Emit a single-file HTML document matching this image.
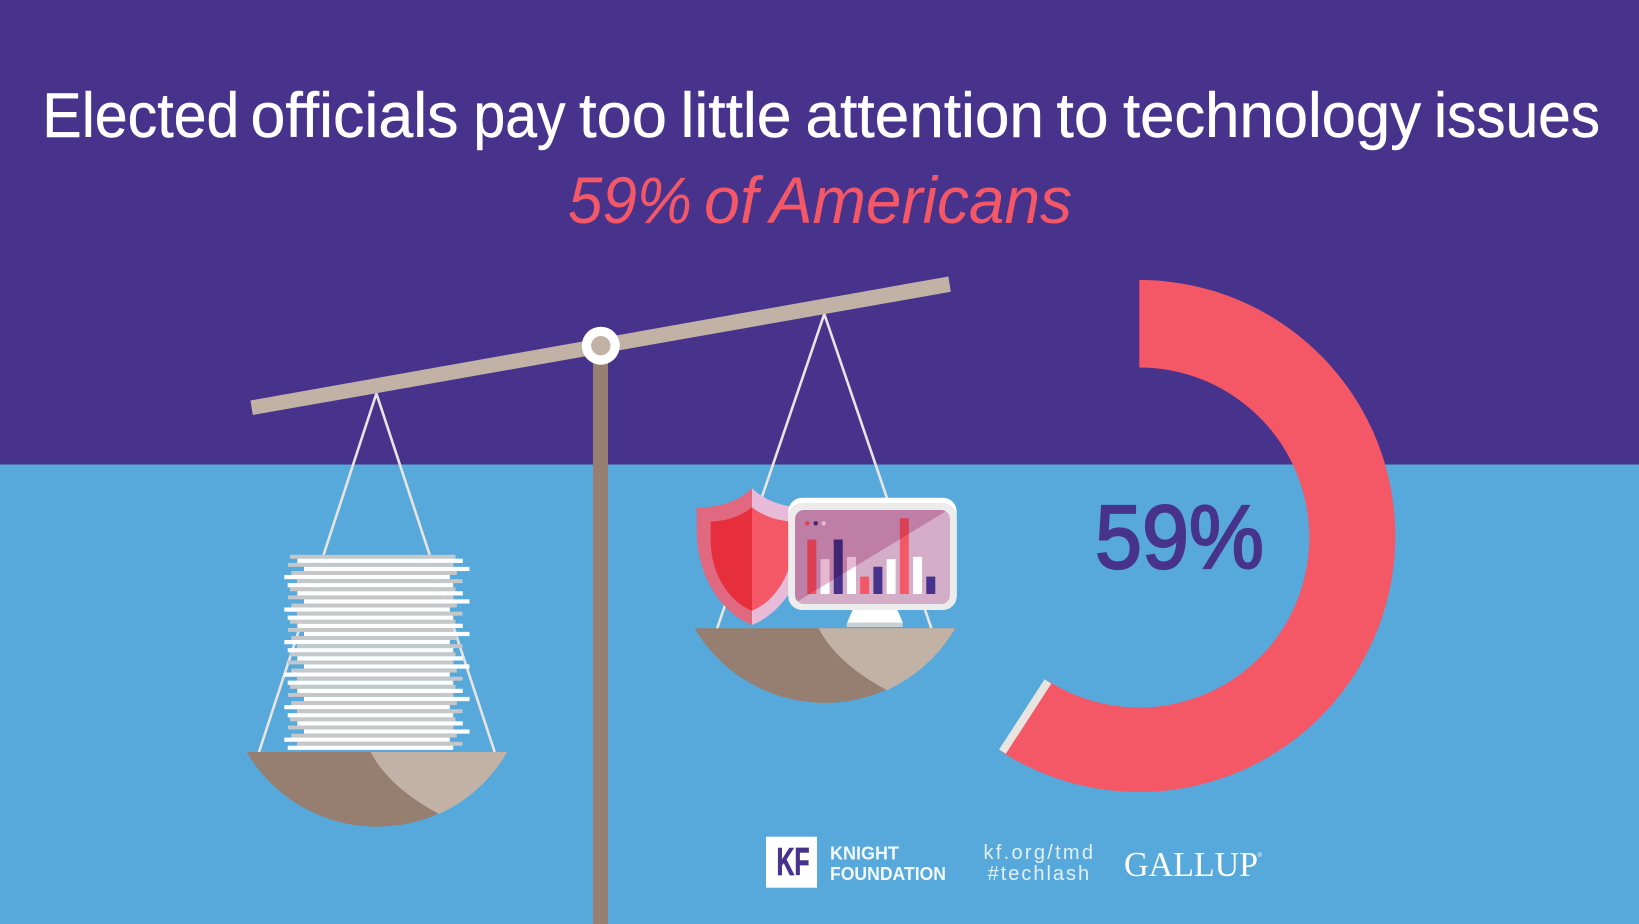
<!DOCTYPE html>
<html lang="en">
<head>
<meta charset="utf-8">
<title>Elected officials pay too little attention to technology issues</title>
<style>
html,body{margin:0;padding:0;background:#56a9da;}
svg{display:block;}
text{font-family:"Liberation Sans",sans-serif;}
</style>
</head>
<body>
<svg id="stage" xmlns="http://www.w3.org/2000/svg" width="1639" height="924" viewBox="0 0 1639 924">
  <defs>
    <clipPath id="screen-clip"><rect x="795" y="510" width="155" height="94" rx="9"/></clipPath>
  </defs>
  <rect x="0" y="0" width="1639" height="464.5" fill="#47338c"/>
  <rect x="0" y="464.5" width="1639" height="459.5" fill="#56a9da"/>

  <text y="137" font-size="63" fill="#ffffff" stroke="#ffffff" stroke-width="0.45"><tspan x="42.3" textLength="197" lengthAdjust="spacingAndGlyphs">Elected</tspan> <tspan x="250.5" textLength="208" lengthAdjust="spacingAndGlyphs">officials</tspan> <tspan x="473.5" textLength="92" lengthAdjust="spacingAndGlyphs">pay</tspan> <tspan x="579" textLength="88" lengthAdjust="spacingAndGlyphs">too</tspan> <tspan x="680.5" textLength="111" lengthAdjust="spacingAndGlyphs">little</tspan> <tspan x="805.5" textLength="238.5" lengthAdjust="spacingAndGlyphs">attention</tspan> <tspan x="1056.5" textLength="52" lengthAdjust="spacingAndGlyphs">to</tspan> <tspan x="1123" textLength="298" lengthAdjust="spacingAndGlyphs">technology</tspan> <tspan x="1434" textLength="166" lengthAdjust="spacingAndGlyphs">issues</tspan></text>
  <text y="223" font-size="66" font-style="italic" fill="#f45866"><tspan x="568" textLength="124" lengthAdjust="spacingAndGlyphs">59%</tspan> <tspan x="704" textLength="54" lengthAdjust="spacingAndGlyphs">of</tspan> <tspan x="770" textLength="302" lengthAdjust="spacingAndGlyphs">Americans</tspan></text>

  <rect x="593" y="345" width="15" height="579" fill="#967f70"/>

  <g stroke="#e8e4e0" stroke-width="2.6" fill="none">
    <path d="M259,752 L376.4,393.5 L494.7,752"/>
  </g>
  <g stroke="#e8e4e0" stroke-width="2.6" fill="none">
    <path d="M717.1,628.5 L824.3,314 L931.4,628.5"/>
  </g>

  <polygon points="250.4,400.5 948.4,276.5 950.8,291.8 252.8,415" fill="#c2b2a6"/>
  <circle cx="600.8" cy="345.7" r="19" fill="#ffffff"/>
  <circle cx="600.8" cy="345.7" r="9.7" fill="#c2b2a6"/>

  <g id="paper-stack"></g>

  <g>
    <path d="M246.7,752 H507.3 A151,151 0 0 1 246.7,752 Z" fill="#967f70"/>
    <path d="M370.7,752 H507.3 A151,151 0 0 1 439,814 Q388.5,787 370.7,752 Z" fill="#c2b2a6"/>
  </g>
  <g>
    <path d="M694.6,628.2 H955.2 A151,151 0 0 1 694.6,628.2 Z" fill="#967f70"/>
    <path d="M818.6,628.2 H955.2 A151,151 0 0 1 886.9,690.2 Q836.4,663.2 818.6,628.2 Z" fill="#c2b2a6"/>
  </g>

  <g>
    <path d="M752,488.3 C737,503 716,507.7 696.7,507.7 L696.7,530 C696.7,575 720,612 752,625 Z" fill="#e0687f"/>
    <path d="M752,488.3 C767,503 788,507.7 807.3,507.7 L807.3,530 C807.3,575 784,612 752,625 Z" fill="#e8bbd8"/>
    <path d="M752,507.3 C740,517 725,521 710.7,521.7 L710.7,540 C710.7,575 730,602 752,610.7 Z" fill="#e72e3d"/>
    <path d="M752,507.3 C764,517 779,521 793.3,521.7 L793.3,540 C793.3,575 774,602 752,610.7 Z" fill="#f45866"/>
  </g>

  <g>
    <polygon points="853,609 897,609 903,623 847,623" fill="#ffffff"/>
    <rect x="846.7" y="622.5" width="56" height="4.5" fill="#c8d2d6"/>
    <rect x="788.3" y="497.7" width="168.4" height="112.3" rx="14" fill="#ffffff"/>
    <rect x="788.3" y="503" width="168.4" height="107" rx="14" fill="#ececec"/>
    <rect x="795" y="510" width="155" height="94" rx="9" fill="#d4aec8"/>
    <g id="monitor-bars"></g>
    <circle cx="807.3" cy="523.3" r="2.2" fill="#f45866"/>
    <circle cx="815.7" cy="523.3" r="2.2" fill="#47338c"/>
    <circle cx="823.7" cy="523.3" r="2.2" fill="#ffffff"/>
    <polygon points="795,510 948,510 795,603" fill="#e6b8d2" clip-path="url(#screen-clip)" style="mix-blend-mode:multiply"/>
  </g>

  <g id="donut"></g>
  <text x="1095" y="568" font-size="90" fill="#47338c" stroke="#47338c" stroke-width="2.2" textLength="169" lengthAdjust="spacingAndGlyphs">59%</text>

  <g>
    <rect x="766" y="836.7" width="51" height="51" fill="#ffffff"/>
    <text x="776.5" y="875" font-size="39" font-weight="bold" fill="#47338c" stroke="#47338c" stroke-width="0.8" textLength="33" lengthAdjust="spacingAndGlyphs">KF</text>
    <text x="830" y="859.3" font-size="18" font-weight="bold" fill="#f2f8fc" textLength="69" lengthAdjust="spacingAndGlyphs">KNIGHT</text>
    <text x="830" y="880" font-size="18" font-weight="bold" fill="#f2f8fc" textLength="116" lengthAdjust="spacingAndGlyphs">FOUNDATION</text>
  </g>
  <text x="983.5" y="859" font-size="20" fill="#e3f1fa" textLength="109.5" lengthAdjust="spacing">kf.org/tmd</text>
  <text x="987.6" y="880" font-size="20" fill="#e3f1fa" textLength="101.5" lengthAdjust="spacing">#techlash</text>
  <text x="1124" y="876" font-size="35" fill="#ffffff" textLength="134" lengthAdjust="spacingAndGlyphs" style="font-family:'Liberation Serif',serif">GALLUP</text>
  <text x="1257.5" y="857" font-size="6" fill="#ffffff">®</text>
</svg>

<script>
var donutValues = [59];
var barCategories = ['b1','b2','b3','b4','b5','b6','b7','b8','b9','b10'];
var barValues = [72, 46, 72, 49, 23, 36, 46, 100, 49, 23];
var barSeries = ['red','white','navy','white','red','navy','white','red','white','navy'];

var SVGNS = 'http://www.w3.org/2000/svg';
var seriesColors = {red:'#f45866', white:'#ffffff', navy:'#47338c'};

/* donut axis */
var donutCx = 1139.3, donutOuterCy = 536, donutInnerCy = 537.5, donutOuter = 256, donutInner = 170;
function donutAngle(pct){ return pct / 100 * 2 * Math.PI; }
function polarX(r, a){ return donutCx + r * Math.sin(a); }
function polarY(r, a, cy){ return cy - r * Math.cos(a); }

function drawDonut(){
  var g = document.getElementById('donut');
  var a = donutAngle(donutValues[0]);
  var large = a > Math.PI ? 1 : 0;
  var d = 'M' + polarX(donutOuter,0) + ',' + polarY(donutOuter,0,donutOuterCy) +
          ' A' + donutOuter + ',' + donutOuter + ' 0 ' + large + ' 1 ' + polarX(donutOuter,a) + ',' + polarY(donutOuter,a,donutOuterCy) +
          ' L' + polarX(donutInner,a) + ',' + polarY(donutInner,a,donutInnerCy) +
          ' A' + donutInner + ',' + donutInner + ' 0 ' + large + ' 0 ' + polarX(donutInner,0) + ',' + polarY(donutInner,0,donutInnerCy) + ' Z';
  var arc = document.createElementNS(SVGNS,'path');
  arc.setAttribute('d', d);
  arc.setAttribute('fill', '#f45866');
  
  
  g.appendChild(arc);
  var tick = document.createElementNS(SVGNS,'line');
  tick.setAttribute('x1', polarX(donutOuter - 0.5, a));
  tick.setAttribute('y1', polarY(donutOuter - 0.5, a, donutOuterCy));
  tick.setAttribute('x2', polarX(donutInner + 0.5, a));
  tick.setAttribute('y2', polarY(donutInner + 0.5, a, donutInnerCy));
  tick.setAttribute('stroke', '#e8e4e0');
  tick.setAttribute('stroke-width', '8');
  
  
  g.appendChild(tick);
}

/* monitor bar axes */
function barX(i){ return 807.3 + i * 13.22; }
function barHeight(v){ return v * 0.757; }
var barBase = 594;

function drawBars(){
  var g = document.getElementById('monitor-bars');
  for (var i = 0; i < barValues.length; i++){
    var h = barHeight(barValues[i]);
    var r = document.createElementNS(SVGNS,'rect');
    r.setAttribute('x', barX(i));
    r.setAttribute('y', barBase - h);
    r.setAttribute('width', 9);
    r.setAttribute('height', h);
    r.setAttribute('fill', seriesColors[barSeries[i]]);
    
    
    g.appendChild(r);
  }
}

function drawPapers(){
  var g = document.getElementById('paper-stack');
  var sheetCount = 24;
  var whiteStarts = [297.3, 304, 284.3, 287.7];
  var grayStarts = [290, 288, 291.3, 297];
  for (var i = 0; i < sheetCount; i++){
    var y = 556.7 + i * 8.13;
    var gray = document.createElementNS(SVGNS,'rect');
    gray.setAttribute('x', grayStarts[i % 4]);
    gray.setAttribute('y', y - 1.9);
    gray.setAttribute('width', 165.5);
    gray.setAttribute('height', 3.9);
    gray.setAttribute('fill', '#c6c7c9');
    
    
    g.appendChild(gray);
    var white = document.createElementNS(SVGNS,'rect');
    white.setAttribute('x', whiteStarts[i % 4]);
    white.setAttribute('y', y + 2);
    white.setAttribute('width', 165.5);
    white.setAttribute('height', 4.23);
    white.setAttribute('fill', '#ffffff');
    
    
    g.appendChild(white);
  }
}

drawDonut();
drawBars();
drawPapers();
</script>
</body>
</html>
